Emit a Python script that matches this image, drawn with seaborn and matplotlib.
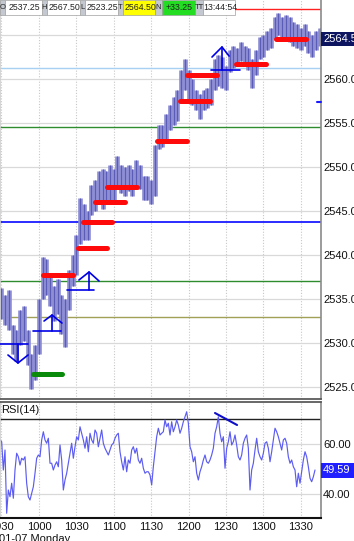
import numpy as np
import pandas as pd
import matplotlib
matplotlib.use("Agg")
import matplotlib.pyplot as plt
import seaborn as sns
from matplotlib.patches import Rectangle

# ---------------- data ----------------
bar_start = 570          # 09:30 in minutes after midnight
bar_step = 3             # minutes per bar
bar_high = [2536.25, 2535.5, 2536.0, 2532.0, 2531.5, 2533.75, 2534.25, 2531.5, 2528.75, 2529.75,
            2535.0, 2539.75, 2539.5, 2537.75, 2536.5, 2537.25, 2535.5, 2535.0, 2538.25, 2540.0,
            2542.25, 2546.5, 2545.75, 2545.0, 2548.0, 2548.5, 2549.5, 2549.75, 2549.5, 2550.25,
            2549.75, 2551.25, 2550.25, 2550.0, 2550.25, 2549.75, 2550.75, 2550.25, 2549.0, 2549.0,
            2548.5, 2552.5, 2554.75, 2554.75, 2556.0, 2557.0, 2558.0, 2558.75, 2561.0, 2562.25,
            2561.0, 2560.0, 2558.75, 2558.25, 2558.75, 2559.0, 2560.0, 2562.25, 2562.75, 2562.5,
            2561.5, 2563.25, 2563.75, 2563.5, 2564.25, 2563.75, 2563.5, 2562.25, 2563.25, 2564.75,
            2565.0, 2565.5, 2565.75, 2567.0, 2567.5, 2567.0, 2567.25, 2567.0, 2566.5, 2566.25,
            2565.75, 2566.25, 2565.5, 2565.0, 2565.5, 2565.75]
bar_low = [2532.75, 2532.0, 2531.5, 2528.75, 2528.0, 2529.75, 2530.25, 2527.5, 2524.75, 2525.75,
           2528.75, 2535.0, 2535.5, 2534.25, 2532.5, 2533.25, 2531.0, 2529.5, 2533.75, 2536.5,
           2537.75, 2541.25, 2541.75, 2541.75, 2544.5, 2545.0, 2545.75, 2545.25, 2545.75, 2546.25,
           2546.25, 2547.5, 2547.0, 2546.75, 2547.25, 2546.75, 2548.0, 2547.5, 2546.25, 2546.25,
           2545.75, 2546.75, 2552.0, 2552.25, 2553.0, 2554.25, 2554.75, 2555.25, 2557.5, 2558.75,
           2557.5, 2557.0, 2556.5, 2555.5, 2556.5, 2556.75, 2557.0, 2558.75, 2559.25, 2559.0,
           2558.75, 2560.75, 2561.25, 2561.5, 2562.0, 2561.5, 2561.0, 2559.0, 2560.5, 2562.25,
           2562.5, 2563.25, 2563.5, 2564.5, 2565.0, 2564.5, 2564.75, 2564.25, 2563.75, 2563.5,
           2563.25, 2563.75, 2563.0, 2562.5, 2563.25, 2563.75]

rsi_start = 568.8
rsi_step = 1.3365
rsi_values = [61.6, 60.9, 49.6, 57.6, 32.3, 41.6, 38.9, 44.3, 38.3, 49.6,
              56.3, 54.9, 51.6, 54.3, 53.6, 54.9, 44.3, 38.9, 37.6, 40.3,
              42.9, 48.3, 54.3, 55.6, 54.9, 61.6, 64.9, 61.6, 60.3, 62.3,
              52.3, 52.3, 49.6, 51.6, 52.9, 50.9, 59.6, 53.6, 41.6, 45.6,
              48.3, 52.3, 56.3, 60.3, 54.3, 58.9, 62.9, 61.6, 66.9, 64.3,
              61.6, 58.3, 62.9, 56.9, 64.3, 61.6, 60.3, 65.6, 64.3, 58.9,
              62.3, 65.6, 60.3, 58.3, 56.9, 55.6, 57.6, 59.6, 60.3, 62.3,
              63.6, 64.3, 56.9, 52.9, 49.6, 54.9, 48.9, 53.6, 52.3, 57.6,
              58.9, 56.3, 58.3, 53.6, 52.3, 54.3, 50.3, 48.3, 48.9, 48.9,
              47.6, 43.6, 50.9, 56.9, 62.9, 66.3, 63.6, 64.3, 64.9, 69.6,
              66.9, 68.3, 63.6, 68.9, 64.9, 66.9, 69.6, 67.6, 64.3, 66.3,
              68.9, 70.9, 72.9, 68.3, 58.9, 56.9, 52.9, 54.9, 48.3, 45.6,
              48.9, 50.9, 53.6, 55.6, 52.9, 52.3, 53.6, 55.6, 58.3, 64.3,
              66.9, 70.9, 64.3, 60.9, 62.9, 50.3, 58.3, 60.9, 64.9, 59.6,
              60.9, 63.6, 59.6, 54.9, 53.6, 55.6, 60.3, 62.3, 63.6, 58.3,
              41.6, 49.6, 52.3, 57.6, 62.3, 56.9, 54.9, 53.6, 56.3, 60.3,
              60.9, 58.3, 52.9, 56.9, 61.6, 66.3, 64.9, 62.9, 60.3, 57.6,
              61.6, 62.3, 60.3, 54.9, 52.3, 53.6, 50.9, 49.6, 42.9, 48.3,
              44.3, 48.9, 53.6, 56.9, 54.9, 50.9, 46.3, 44.9, 46.9, 49.6]

# red resistance/support markers (start minute, end minute, price)
red_start = [603, 631, 635, 645, 655, 695, 713, 719, 758, 790]
red_end = [627, 655, 659, 669, 679, 719, 737, 743, 782, 814]
red_price = [2537.75, 2540.75, 2543.75, 2546.0, 2547.75, 2553.0, 2557.5, 2560.5, 2561.75, 2564.5]
green_start, green_end, green_price = 595, 618.5, 2526.5

# horizontal reference levels
level_prices = [2568.0, 2561.25, 2554.5, 2543.75, 2537.0, 2533.0]
level_colors = ["#ff2020", "#a8d0f0", "#2e8b2e", "#1a1aff", "#2e8b2e", "#a0a058"]

# drawn arrows: polylines of (minute, price)
arrow_lines = [
    [(568.8, 2529.89), (591.3, 2529.89)], [(583.2, 2529.89), (583.2, 2527.73)],
    [(575.2, 2528.64), (583.2, 2527.73), (591.3, 2528.64)],
    [(595.3, 2531.36), (617.7, 2531.36)], [(610.5, 2531.36), (610.5, 2533.18)],
    [(604.1, 2532.5), (610.5, 2533.18), (618.5, 2532.27)],
    [(622.5, 2536.02), (644.2, 2536.02)], [(640.2, 2536.02), (640.2, 2538.07)],
    [(632.1, 2537.16), (640.2, 2538.07), (648.2, 2537.05)],
    [(738.0, 2561.02), (761.3, 2561.02)], [(746.8, 2561.02), (746.8, 2563.64)],
    [(738.8, 2562.5), (746.8, 2563.64), (752.5, 2562.61)],
]
rsi_trend = [(741.2, 72.4), (758.9, 67.6)]
small_mark = [(823.2, 2557.4), (826.0, 2557.4)]

price_ticks = [2525, 2530, 2535, 2540, 2545, 2550, 2555, 2560]
grid_prices = [2525, 2530, 2535, 2540, 2545, 2550, 2555, 2560, 2565]
time_ticks = [570, 600, 630, 660, 690, 720, 750, 780, 810]
time_labels = ["0930", "1000", "1030", "1100", "1130", "1200", "1230", "1300", "1330"]
last_price = "2564.50"
last_price_value = 2564.5
rsi_last = "49.59"
rsi_last_value = 49.59
rsi_levels = [70, 30]
rsi_grid = [60, 40]
info_labels = ["O", "H", "L", "T", "N", "TT"]
info_values = ["2537.25", "2567.50", "2523.25", "2564.50", "+33.25", "13:44:54"]
date_text = "01-07 Monday"

# ---------------- style ----------------
sns.set_theme(style="white")
plt.rcParams["font.family"] = ["Liberation Sans", "DejaVu Sans"]

W, H = 354, 541
fig = plt.figure(figsize=(W / 100, H / 100), dpi=100)
fig.patch.set_facecolor("white")

def fx(x):
    return x / W

def fy(y):
    return 1 - y / H

ax = fig.add_axes([0, fy(399), fx(321), 399 / H])
ax2 = fig.add_axes([0, fy(518), fx(321), (518 - 402) / H])

xmin, xmax = 568.8, 826.2
for a in (ax, ax2):
    a.set_xlim(xmin, xmax)
    a.set_facecolor("white")
    for t in time_ticks:
        a.axvline(t, color="#c8c8c8", lw=0.8, ls=(0, (1, 1.5)), zorder=0)
ax.set_ylim(2523.64, 2568.98)
ax2.set_ylim(30.4, 76.8)

# grid lines in price pane
for g in grid_prices:
    ax.axhline(g, color="#d9d9d9", lw=0.9, zorder=0.5)
for p, c in zip(level_prices, level_colors):
    lw = 1.3 if c == "#1a1aff" else 1.0
    ax.axhline(p, color=c, lw=lw, zorder=1)

# price bars
bar_time = bar_start + bar_step * np.arange(len(bar_high))
ax.vlines(bar_time, bar_low, bar_high, color="#8a8ad2", lw=3.3, zorder=2)
ax.vlines(bar_time, bar_low, bar_high, color="#5252b4", lw=0.6, zorder=2.1)

# markers
for s, e, p in zip(red_start, red_end, red_price):
    ax.plot([s, e], [p, p], color="#ff0a0a", lw=3.6, solid_capstyle="round", zorder=3)
ax.plot([green_start, green_end], [green_price, green_price], color="#0a8a0a", lw=3.6,
        solid_capstyle="round", zorder=3)

for line in arrow_lines:
    xs, ys = zip(*line)
    ax.plot(xs, ys, color="#0000e6", lw=1.2, zorder=4)
xs, ys = zip(*small_mark)
ax.plot(xs, ys, color="#1a1aff", lw=1.5, zorder=4, clip_on=False)

# RSI pane
for g in rsi_grid:
    ax2.axhline(g, color="#d9d9d9", lw=0.9, zorder=0.5)
for g in rsi_levels:
    ax2.axhline(g, color="#222222", lw=1.0, zorder=1)
rsi_df = pd.DataFrame({"t": rsi_start + rsi_step * np.arange(len(rsi_values)), "rsi": rsi_values})
sns.lineplot(data=rsi_df, x="t", y="rsi", ax=ax2, color="#5c5cf2", lw=0.85, zorder=2)
xs, ys = zip(*rsi_trend)
ax2.plot(xs, ys, color="#0f0fc8", lw=1.5, zorder=3)

# axes cosmetics
for a in (ax, ax2):
    a.set_xlabel("")
    a.set_ylabel("")
    a.tick_params(length=0)
    a.spines["left"].set_color("#d0d0d0")
    a.spines["right"].set_color("#8a8a8a")
    a.spines["right"].set_linewidth(1.2)
ax.spines["top"].set_visible(False)
ax.spines["bottom"].set_color("#555555")
ax2.spines["top"].set_color("#555555")
ax2.spines["bottom"].set_color("#111111")
ax2.spines["bottom"].set_linewidth(1.5)

ax.set_xticks([])
ax.yaxis.tick_right()
ax.set_yticks(price_ticks)
ax.set_yticklabels([f"{v:.2f}" for v in price_ticks], fontsize=8, color="#111111")
ax.tick_params(axis="y", pad=1.5)

ax2.yaxis.tick_right()
ax2.set_yticks(rsi_grid)
ax2.set_yticklabels([f"{v:.2f}" for v in rsi_grid], fontsize=8, color="#111111")
ax2.tick_params(axis="y", pad=1.5)
ax2.set_xticks(time_ticks)
ax2.set_xticklabels(time_labels, fontsize=8, color="#111111")
ax2.tick_params(axis="x", pad=3)

# last value boxes on the right
def ybox(a, v):
    return a.transData.transform((xmin, v))[1] / H

yp = ybox(ax, last_price_value)
fig.patches.append(Rectangle((fx(321), yp - 7 / H), fx(354) - fx(321), 14 / H,
                             transform=fig.transFigure, facecolor="#0d1560", edgecolor="none"))
fig.text(fx(323), yp, last_price, color="white", fontsize=8, va="center", ha="left")
yr = ybox(ax2, rsi_last_value)
fig.patches.append(Rectangle((fx(321), yr - 7.5 / H), fx(354) - fx(321), 15 / H,
                             transform=fig.transFigure, facecolor="#1f1fff", edgecolor="none"))
fig.text(fx(323), yr, rsi_last, color="white", fontsize=8, va="center", ha="left")

fig.text(fx(1), fy(410), "RSI(14)", fontsize=8, color="#111111", va="center", ha="left")
fig.text(fx(-1), fy(533.5), date_text, fontsize=8, color="#111111", va="top", ha="left")

# info bar at top
label_boxes = [(0, 5), (42, 47), (80, 85), (118, 123), (155, 162), (195, 203)]
value_boxes = [(5, 42), (47, 80), (85, 118), (123, 155), (162, 195), (203, 235)]
value_colors = ["white", "white", "white", "#ffff00", "#22dd22", "white"]
for (x0, x1), lab in zip(label_boxes, info_labels):
    fig.patches.append(Rectangle((fx(x0), fy(15)), fx(x1 - x0), 15 / H, transform=fig.transFigure,
                                 facecolor="#c4c8d0", edgecolor="#a0a0a0", lw=0.5))
    fig.text(fx((x0 + x1) / 2), fy(7.5), lab, fontsize=5.5, color="#222222", ha="center", va="center")
for (x0, x1), val, col in zip(value_boxes, info_values, value_colors):
    fig.patches.append(Rectangle((fx(x0), fy(15)), fx(x1 - x0), 15 / H, transform=fig.transFigure,
                                 facecolor=col, edgecolor="#a0a0a0", lw=0.5))
    fig.text(fx((x0 + x1) / 2 + 1), fy(7.5), val, fontsize=6.3, color="#222222", ha="center", va="center")

fig.savefig("out.png", dpi=100)
